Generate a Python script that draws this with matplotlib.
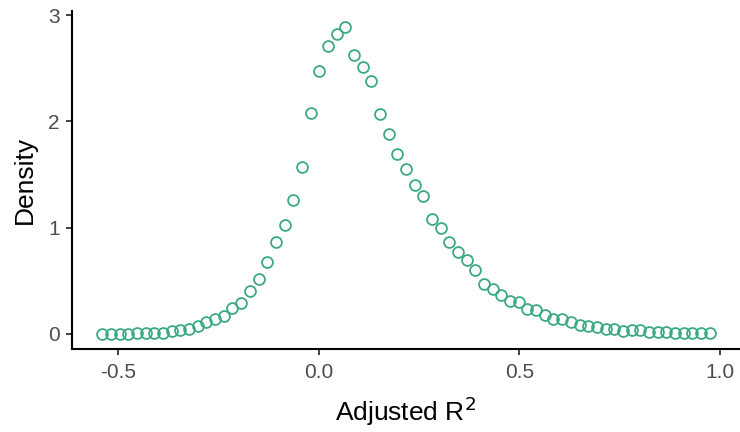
import numpy as np
import matplotlib
matplotlib.use("Agg")
import matplotlib.pyplot as plt

# density estimate, evenly spaced in adjusted R^2
x_start = -0.540
x_step = 0.02163
density = [
    0.00, 0.00, 0.00, 0.00, 0.006, 0.01, 0.01, 0.01, 0.025, 0.037,
    0.047, 0.075, 0.11, 0.135, 0.17, 0.245, 0.285, 0.40, 0.52, 0.68,
    0.86, 1.02, 1.26, 1.567, 2.08, 2.48, 2.715, 2.82, 2.894, 2.625,
    2.515, 2.383, 2.07, 1.878, 1.696, 1.555, 1.40, 1.295, 1.08, 0.995,
    0.862, 0.768, 0.696, 0.602, 0.47, 0.417, 0.365, 0.306, 0.297, 0.229,
    0.222, 0.178, 0.137, 0.137, 0.113, 0.085, 0.075, 0.062, 0.043, 0.047,
    0.028, 0.037, 0.037, 0.015, 0.012, 0.015, 0.01, 0.01, 0.01, 0.007,
    0.005,
]
adj_r2 = [round(x_start + i * x_step, 4) for i in range(len(density))]

xticks = [-0.5, 0.0, 0.5, 1.0]
yticks = [0, 1, 2, 3]

plt.rcParams['font.family'] = ['Liberation Sans', 'DejaVu Sans']

fig = plt.figure(figsize=(7.4, 4.32), dpi=100)
ax = fig.add_axes([0.0973, 0.192, 0.9027, 0.782])

ax.plot(adj_r2, density, linestyle='none', marker='o', markersize=7.8,
        markerfacecolor='none', markeredgecolor='#3BAA83', markeredgewidth=1.3)

# ggplot-style 5% expansion
xr = max(adj_r2) - min(adj_r2)
ax.set_xlim(min(adj_r2) - 0.05 * xr, max(adj_r2) + 0.05 * xr)
yr = max(density) - min(density)
ax.set_ylim(min(density) - 0.05 * yr, max(density) + 0.05 * yr)

ax.set_xticks(xticks)
ax.set_xticklabels(['-0.5', '0.0', '0.5', '1.0'])
ax.set_yticks(yticks)

for s in ['top', 'right']:
    ax.spines[s].set_visible(False)
for s in ['left', 'bottom']:
    ax.spines[s].set_linewidth(1.5)
    ax.spines[s].set_color('black')

ax.tick_params(axis='both', length=4, width=1.3, color='#333333',
               labelsize=15, labelcolor='#4D4D4D')
ax.tick_params(axis='x', pad=6)
ax.tick_params(axis='y', pad=5)

ax.set_xlabel('Adjusted R$^2$', fontsize=19, labelpad=9)
ax.set_ylabel('Density', fontsize=19, labelpad=8)

fig.savefig('out.png', dpi=100)
